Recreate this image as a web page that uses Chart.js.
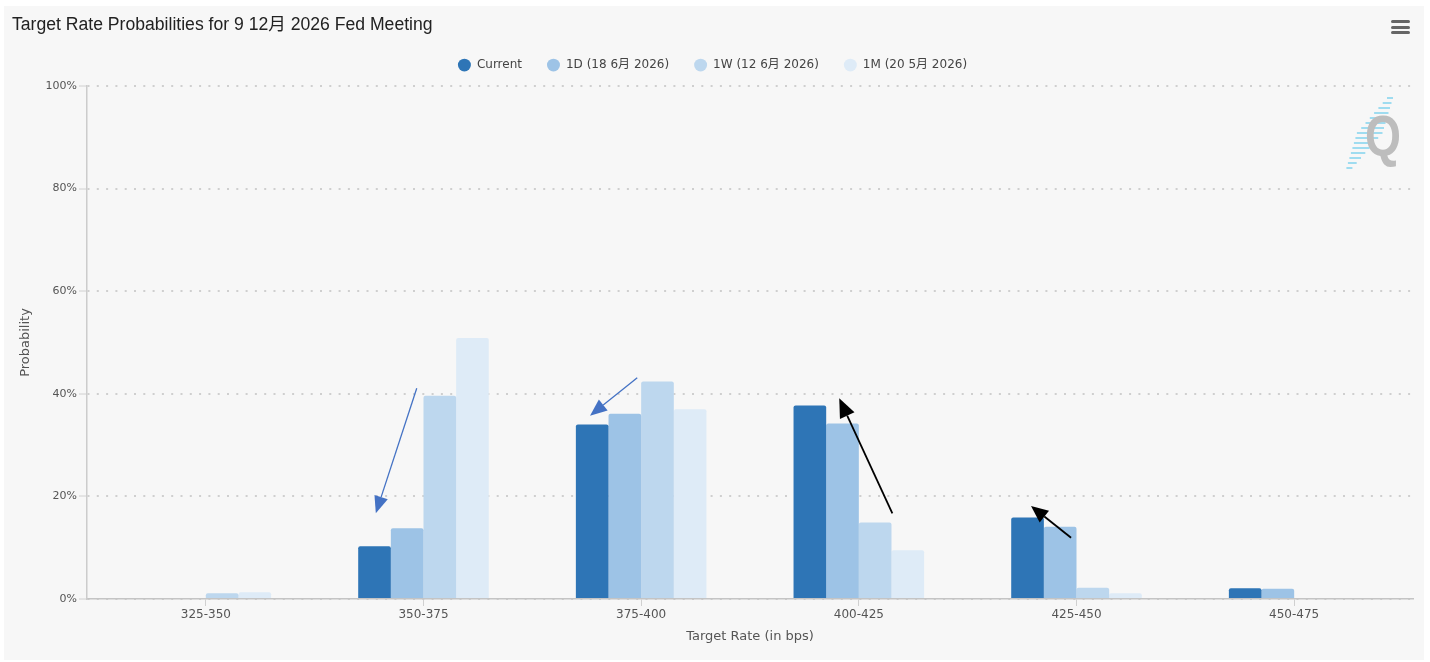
<!DOCTYPE html>
<html><head><meta charset="utf-8">
<script src="https://cdn.jsdelivr.net/npm/chart.js@4.4.1/dist/chart.umd.min.js"></script>
<style>
html,body{margin:0;padding:0;background:#fff;width:1430px;height:662px;overflow:hidden;}
#box{position:absolute;left:4px;top:6px;width:1420px;height:654px;background:#f7f7f7;}
#wrap{position:absolute;left:0;top:0;width:1430px;height:662px;}
#menu{position:absolute;left:1391px;top:20px;width:19px;height:15px;}
#menu span{display:block;height:3px;background:#666;border-radius:1.5px;margin-bottom:2.5px;}
#logo{position:absolute;left:1340px;top:92px;width:70px;height:85px;}
</style></head><body>
<div id="box"></div>
<svg id="logo" width="70" height="85" viewBox="0 0 70 85">
  <g stroke="#9fdcf0" stroke-width="2" id="stripes"></g>
  <text x="25" y="64" font-family="Liberation Sans" font-weight="bold" font-size="58" fill="#bdbdbd" textLength="36" lengthAdjust="spacingAndGlyphs">Q</text>
</svg>
<div id="wrap"><canvas id="c" width="1430" height="662"></canvas></div>
<div id="menu"><span></span><span></span><span></span></div>
<script>
// ---- data ----
const categories = ['325-350','350-375','375-400','400-425','425-450','450-475'];
const seriesNames = ['Current','1D (18 6月 2026)','1W (12 6月 2026)','1M (20 5月 2026)'];
const current  = [0,   10.3, 34.0, 37.7, 15.9, 2.1];
const oneDay   = [0,   13.8, 36.1, 34.2, 14.1, 2.0];
const oneWeek  = [1.1, 39.6, 42.4, 14.9, 2.2,  0];
const oneMonth = [1.3, 50.9, 37.0,  9.5, 1.1,  0];
const yTicks = [0, 20, 40, 60, 80, 100];
const chartTitle = 'Target Rate Probabilities for 9 12月 2026 Fed Meeting';
const xTitle = 'Target Rate (in bps)';
const yTitle = 'Probability';

// annotation arrows (in data units: category index, percent)
const arrows = [
  {from:[0.969,41.07], to:[0.781,16.71], color:'#4472c4', width:1.3, len:17, half:7},
  {from:[1.982,43.14], to:[1.765,35.73], color:'#4472c4', width:1.3, len:17, half:7},
  {from:[3.154,16.71], to:[2.910,39.12], color:'#000000', width:1.8, len:19, half:8},
  {from:[3.975,11.95], to:[3.791,18.13], color:'#000000', width:1.8, len:17, half:7.5}
];

// logo stripes
(function(){
  const g = document.getElementById('stripes');
  for (let i=0;i<15;i++){
    const y = 6 + i*5;
    const cx = 50 - i*2.9;
    const half = 3 + Math.min(i, 14-i)*1.4;
    const l = document.createElementNS('http://www.w3.org/2000/svg','line');
    l.setAttribute('x1', cx-half); l.setAttribute('x2', cx+half);
    l.setAttribute('y1', y); l.setAttribute('y2', y);
    g.appendChild(l);
  }
})();

const colors = ['#2e75b6','#9dc3e6','#bdd7ee','#deebf7'];
const seriesValues = [current, oneDay, oneWeek, oneMonth];
const FONT = "'DejaVu Sans', 'Noto Sans CJK SC', sans-serif";

const arrowPlugin = {
  id:'arrows',
  afterDatasetsDraw(chart){
    const {ctx, scales:{x, y}} = chart;
    ctx.save();
    arrows.forEach(a=>{
      const x0 = x.getPixelForValue(a.from[0]), y0 = y.getPixelForValue(a.from[1]);
      const x1 = x.getPixelForValue(a.to[0]),   y1 = y.getPixelForValue(a.to[1]);
      const ang = Math.atan2(y1-y0, x1-x0);
      const bx = x1 - a.len*Math.cos(ang), by = y1 - a.len*Math.sin(ang);
      ctx.strokeStyle = a.color; ctx.fillStyle = a.color; ctx.lineWidth = a.width;
      ctx.beginPath(); ctx.moveTo(x0,y0); ctx.lineTo(bx,by); ctx.stroke();
      ctx.beginPath();
      ctx.moveTo(x1,y1);
      ctx.lineTo(bx + a.half*Math.sin(ang), by - a.half*Math.cos(ang));
      ctx.lineTo(bx - a.half*Math.sin(ang), by + a.half*Math.cos(ang));
      ctx.closePath(); ctx.fill();
    });
    ctx.restore();
  }
};

const legendFitPlugin = {
  id:'legendFit',
  beforeInit(chart){
    const orig = chart.legend.fit;
    chart.legend.fit = function(){ orig.call(this); this.height = 52; };
  }
};

new Chart(document.getElementById('c'), {
  type:'bar',
  data:{
    datasets: seriesValues.map((vals, k)=>({
      label: seriesNames[k],
      data: vals.map((v,i)=>({x:i, y:v})),
      backgroundColor: colors[k],
      borderColor: colors[k],
      borderWidth: 0,
      borderRadius: {topLeft:2, topRight:2, bottomLeft:0, bottomRight:0},
      borderSkipped: 'start',
      barPercentage: 1.0,
      categoryPercentage: 0.6
    }))
  },
  plugins:[arrowPlugin, legendFitPlugin],
  options:{
    responsive:false, animation:false, devicePixelRatio:1,
    layout:{padding:{left:12, right:17, top:0, bottom:0}},
    plugins:{
      title:{display:true, text:chartTitle, align:'start', color:'#222',
        font:{family:"'Liberation Sans', 'Noto Sans CJK SC', sans-serif", size:17.6, weight:'normal'},
        padding:{top:14.6, bottom:-1.7}},
      legend:{display:true, labels:{usePointStyle:true, pointStyle:'circle', boxHeight:9, pointStyleWidth:13,
        padding:25, color:'#444', font:{family:FONT, size:12}}},
      tooltip:{enabled:false}
    },
    scales:{
      x:{type:'linear', min:-0.5459, max:5.5459, offset:false,
        afterFit(s){ s.height = 63; },
        afterBuildTicks(s){ s.ticks = categories.map((c,i)=>({value:i})); },
        grid:{display:true, offset:false, drawOnChartArea:false, drawTicks:true, tickLength:7, tickColor:'#d0d0d0', color:'#d0d0d0'},
        border:{display:true, color:'#c4c4c4', width:1.5},
        ticks:{autoSkip:false, maxRotation:0, padding:2, color:'#555', font:{family:FONT, size:12},
          callback:(v)=>categories[v] ?? ''},
        title:{display:true, text:xTitle, color:'#555', font:{family:FONT, size:13}, padding:{top:0, bottom:18}}
      },
      y:{min:0, max:100,
        afterFit(s){ s.width = 75; },
        afterBuildTicks(s){ s.ticks = yTicks.map(v=>({value:v})); },
        grid:{color:'#cfcfcf', lineWidth:2, tickLength:8, tickColor:'#d0d0d0', tickBorderDash:[], tickWidth:1},
        border:{display:true, color:'#cccccc', width:1.5, dash:[2,7.3]},
        ticks:{padding:2, color:'#555', font:{family:FONT, size:11}, callback:(v)=>v+'%'},
        title:{display:true, text:yTitle, color:'#555', font:{family:FONT, size:13}, padding:{top:6, bottom:0}}
      }
    }
  }
});
</script>
</body></html>
